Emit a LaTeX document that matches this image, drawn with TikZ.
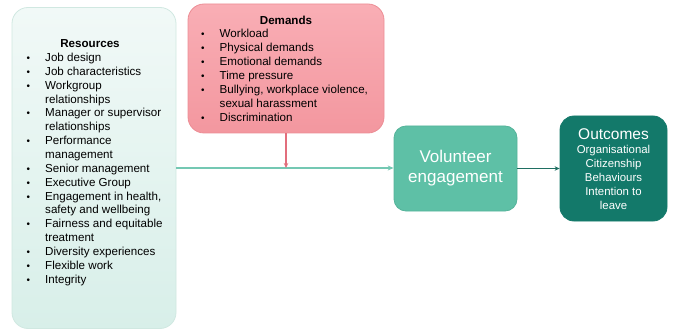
\documentclass[tikz,border=0pt]{standalone}
\usepackage{fontspec}
\setmainfont{Liberation Sans}
\usetikzlibrary{arrows.meta}

\definecolor{resTop}{HTML}{F1F9F7}
\definecolor{resBot}{HTML}{D8EFE9}
\definecolor{resLine}{HTML}{D0E8E1}
\definecolor{demTop}{HTML}{F9AEB5}
\definecolor{demBot}{HTML}{F3979F}
\definecolor{demLine}{HTML}{EC8D95}
\definecolor{volFill}{HTML}{5EC0A6}
\definecolor{volLine}{HTML}{55B39A}
\definecolor{outFill}{HTML}{13796A}
\definecolor{flowLine}{HTML}{74C8B3}
\definecolor{demArrow}{HTML}{E26E7C}
\definecolor{outArrow}{HTML}{1F6F62}

\newlength{\bulletgap}
\newcommand{\bitem}[1]{\makebox[\bulletgap][l]{\scalebox{0.85}{•}}#1}
\newcommand{\bcont}[1]{\hspace*{\bulletgap}#1}

\tikzset{
  panel/.style={rounded corners=16pt, inner sep=0pt, line width=0.8pt},
  resbox/.style={panel, draw=resLine, top color=resTop, bottom color=resBot},
  dembox/.style={panel, draw=demLine, top color=demTop, bottom color=demBot},
  volbox/.style={panel, rounded corners=12pt, draw=volLine, fill=volFill},
  outbox/.style={panel, rounded corners=14pt, draw=outFill, fill=outFill},
  heading/.style={inner sep=0pt, anchor=base, font=\bfseries\fontsize{11.6}{13.8}\selectfont},
  % multi-line nodes: the base anchor sits on the last line's baseline
  listtext/.style={inner sep=0pt, anchor=base west, align=left,
    font=\fontsize{11.6}{13.85}\selectfont},
  flow/.style={draw=flowLine, line width=1.6pt},
}

\begin{document}
\begin{tikzpicture}[x=1pt, y=-1pt]
\useasboundingbox (0,0) rectangle (674,331);

% boxes
\node[resbox, minimum width=164pt, minimum height=321pt] (res) at (94,168) {};
\node[dembox, minimum width=196pt, minimum height=129pt] (dem) at (286,68.5) {};
\node[volbox, minimum width=123pt, minimum height=85pt] (vol) at (455.5,168.5) {};
\node[outbox, minimum width=107pt, minimum height=105pt] (out) at (613.5,168.5) {};

% resources list
\node[heading] (resTitle) at (90,47.5) {Resources};
\setlength{\bulletgap}{18.5pt}
\node[listtext] (resList) at (26.5,283.1) {%
\bitem{Job design}\\
\bitem{Job characteristics}\\
\bitem{Workgroup}\\
\bcont{relationships}\\
\bitem{Manager or supervisor}\\
\bcont{relationships}\\
\bitem{Performance}\\
\bcont{management}\\
\bitem{Senior management}\\
\bitem{Executive Group}\\
\bitem{Engagement in health,}\\
\bcont{safety and wellbeing}\\
\bitem{Fairness and equitable}\\
\bcont{treatment}\\
\bitem{Diversity experiences}\\
\bitem{Flexible work}\\
\bitem{Integrity}};

% demands list
\node[heading] (demTitle) at (286,24.3) {Demands};
\node[listtext] (demList) at (201,121.1) {%
\bitem{Workload}\\
\bitem{Physical demands}\\
\bitem{Emotional demands}\\
\bitem{Time pressure}\\
\bitem{Bullying, workplace violence,}\\
\bcont{sexual harassment}\\
\bitem{Discrimination}};

% engagement and outcomes text
\node[inner sep=0pt, align=center, text=white, font=\fontsize{17}{20}\selectfont] (volText) at (vol.center) {Volunteer\\engagement};
\node[inner sep=0pt, anchor=base, text=white, font=\fontsize{15.5}{18}\selectfont] (outTitle) at (613.5,140) {Outcomes};
\node[inner sep=0pt, anchor=base, align=center, text=white, font=\fontsize{11.4}{13.8}\selectfont] (outList) at (613.5,209.2) {Organisational\\Citizenship\\Behaviours\\Intention to\\leave};

% connectors
\draw[flow, -{Stealth[length=6pt, width=5pt]}] (res.east) -- (res.east -| vol.west);
\draw[demArrow, line width=1.1pt, -{Stealth[length=5pt, width=4.5pt]}] (dem.south) -- (dem.south |- res.east);
\draw[outArrow, line width=0.9pt, -{Stealth[length=5pt, width=4.5pt]}] (vol.east) -- (out.west);
\end{tikzpicture}
\end{document}
